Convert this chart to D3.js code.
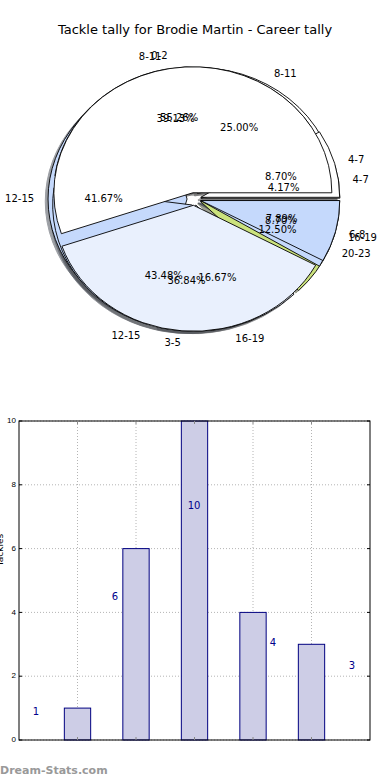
<!DOCTYPE html>
<html><head><meta charset="utf-8">
<script src="https://cdn.jsdelivr.net/npm/d3@7"></script>
<style>body{margin:0;background:#fff}svg{display:block}</style>
</head><body>
<svg id="c" width="390" height="780"></svg>
<script>
// ---- data ----
const chartTitle = 'Tackle tally for Brodie Martin - Career tally';
const pieALabels = ['4-7','8-11','12-15','16-19','20-23'];
const pieAValues = [1,6,10,4,3];
const pieBLabels = ['4-7','8-11','12-15','16-19'];
const pieBValues = [2,9,10,2];
const pieCLabels = ['0-2','3-5','6-8'];
const pieCValues = [21,14,3];
const barCategories = ['4-7','8-11','12-15','16-19','20-23'];
const barValues = [1,6,10,4,3];
const yTickValues = [0,2,4,6,8,10];
const yAxisTitle = 'Tackles';
const watermark = 'Dream-Stats.com';

// ---- styles ----
const WHITE='#ffffff', LAV='#e9f0fd', LBLUE='#c5d9fc', YGREEN='#cbe27d';
const pieAColors=[WHITE,WHITE,LBLUE,LAV,YGREEN];
const pieBColors=[WHITE,LAV,LBLUE,LBLUE];
const pieCColors=[WHITE,LAV,LBLUE];
const FONT='"DejaVu Sans", sans-serif';

const svg=d3.select('#c');
svg.append('rect').attr('width',390).attr('height',780).attr('fill','#fff');

svg.append('text').attr('x',195).attr('y',30).attr('text-anchor','middle')
  .attr('dominant-baseline','middle').attr('font-family',FONT).attr('font-size',13)
  .attr('fill','#000').text(chartTitle);

// ---- pies ----
const cx=194, cy=199, Rx=139, Ry=126, explode=0.05, shOff=0.02;
const pies=[
  {labels:pieALabels, values:pieAValues, colors:pieAColors},
  {labels:pieBLabels, values:pieBValues, colors:pieBColors},
  {labels:pieCLabels, values:pieCValues, colors:pieCColors}
];
const pieGen=d3.pie().sort(null).startAngle(0).endAngle(2*Math.PI);
function wedgePath(t0,t1,ox,oy){
  const x0=ox+Rx*Math.cos(t0), y0=oy-Ry*Math.sin(t0);
  const x1=ox+Rx*Math.cos(t1), y1=oy-Ry*Math.sin(t1);
  const large=(t1-t0)>Math.PI?1:0;
  return `M${ox},${oy}L${x0},${y0}A${Rx},${Ry} 0 ${large} 0 ${x1},${y1}Z`;
}
function darker(c){const r=d3.rgb(c);return d3.rgb(r.r*0.3,r.g*0.3,r.b*0.3).toString();}

const items=[];
pies.forEach((p,pi)=>{
  const total=d3.sum(p.values);
  pieGen.value(d=>d)(p.values).forEach((a,i)=>{
    const mid=(a.startAngle+a.endAngle)/2;
    const ox=cx+explode*Rx*Math.cos(mid), oy=cy-explode*Ry*Math.sin(mid);
    items.push({pi,i,a,mid,ox,oy,color:p.colors[i],label:p.labels[i],
      pct:(p.values[i]/total*100).toFixed(2)+'%'});
  });
});
const gShadow=svg.append('g'), gWedge=svg.append('g'), gText=svg.append('g');
items.forEach(d=>{
  const sc=darker(d.color);
  gShadow.append('path')
    .attr('d',wedgePath(d.a.startAngle,d.a.endAngle,d.ox-shOff*Rx,d.oy+shOff*Ry))
    .attr('fill',sc).attr('stroke',sc).attr('stroke-width',1).attr('opacity',0.5);
});
items.forEach(d=>{
  gWedge.append('path').attr('d',wedgePath(d.a.startAngle,d.a.endAngle,d.ox,d.oy))
    .attr('fill',d.color).attr('stroke','#000').attr('stroke-width',0.9)
    .attr('stroke-linejoin','round');
});
items.forEach(d=>{
  const c=Math.cos(d.mid), s=Math.sin(d.mid);
  gText.append('text').attr('x',d.ox+1.1*Rx*c).attr('y',d.oy-1.1*Ry*s)
    .attr('text-anchor',c>0?'start':'end').attr('dominant-baseline','middle')
    .attr('font-family',FONT).attr('font-size',10).attr('fill','#000').text(d.label);
  gText.append('text').attr('x',d.ox+0.6*Rx*c).attr('y',d.oy-0.6*Ry*s)
    .attr('text-anchor','middle').attr('dominant-baseline','middle')
    .attr('font-family',FONT).attr('font-size',10).attr('fill','#000').text(d.pct);
});

// ---- bar chart ----
const L=19,R=370,T=421,B=740;
const x=d3.scaleLinear().domain([0,barCategories.length+1]).range([L,R]);
const y=d3.scaleLinear().domain([0,10]).range([B,T]);
const barW=0.45;
const gb=svg.append('g');
// grid
yTickValues.forEach(v=>{
  gb.append('line').attr('x1',L).attr('x2',R).attr('y1',y(v)).attr('y2',y(v))
    .attr('stroke','#b4b4b4').attr('stroke-dasharray','1,2').attr('stroke-width',1);
});
barCategories.forEach((c,i)=>{
  gb.append('line').attr('x1',x(i+1)).attr('x2',x(i+1)).attr('y1',T).attr('y2',B)
    .attr('stroke','#b4b4b4').attr('stroke-dasharray','1,2').attr('stroke-width',1);
});
// bars
gb.selectAll('rect.bar').data(barValues).enter().append('rect').attr('class','bar')
  .attr('x',(d,i)=>x(i+1-barW/2)).attr('width',(d,i)=>x(i+1+barW/2)-x(i+1-barW/2))
  .attr('y',d=>y(d)).attr('height',d=>y(0)-y(d))
  .attr('fill','#cdcde6').attr('stroke','#000080').attr('stroke-width',1);
// value labels
const labX=d3.scaleLinear().domain([0,barValues.length-1]).range([36,352]);
gb.selectAll('text.val').data(barValues).enter().append('text').attr('class','val')
  .attr('x',(d,i)=>labX(i)).attr('y',d=>y(d*0.718+0.16))
  .attr('text-anchor','middle').attr('dominant-baseline','middle')
  .attr('font-family',FONT).attr('font-size',10).attr('fill','#00008b').text(d=>d);
// frame
gb.append('rect').attr('x',L).attr('y',T).attr('width',R-L).attr('height',B-T)
  .attr('fill','none').attr('stroke','#000').attr('stroke-width',1);
// ticks
yTickValues.forEach(v=>{
  gb.append('line').attr('x1',L).attr('x2',L+3).attr('y1',y(v)).attr('y2',y(v)).attr('stroke','#000');
  gb.append('line').attr('x1',R-3).attr('x2',R).attr('y1',y(v)).attr('y2',y(v)).attr('stroke','#000');
  gb.append('text').attr('x',L-3).attr('y',y(v)).attr('text-anchor','end')
    .attr('dominant-baseline','middle').attr('font-family','"Liberation Sans", sans-serif')
    .attr('font-size',8).attr('fill','#000').text(v);
});
barCategories.forEach((c,i)=>{
  gb.append('line').attr('x1',x(i+1)).attr('x2',x(i+1)).attr('y1',T).attr('y2',T+3).attr('stroke','#888');
  gb.append('line').attr('x1',x(i+1)).attr('x2',x(i+1)).attr('y1',B-3).attr('y2',B).attr('stroke','#888');
});
// y axis title (mostly clipped)
svg.append('text').attr('transform','translate(3,550) rotate(-90)')
  .attr('text-anchor','middle').attr('font-family',FONT).attr('font-size',9).attr('fill','#000')
  .text(yAxisTitle);
// watermark
svg.append('text').attr('x',0).attr('y',771).attr('dominant-baseline','middle')
  .attr('font-family',FONT).attr('font-weight','bold').attr('font-size',11).attr('fill','#999')
  .text(watermark);
</script>
</body></html>
